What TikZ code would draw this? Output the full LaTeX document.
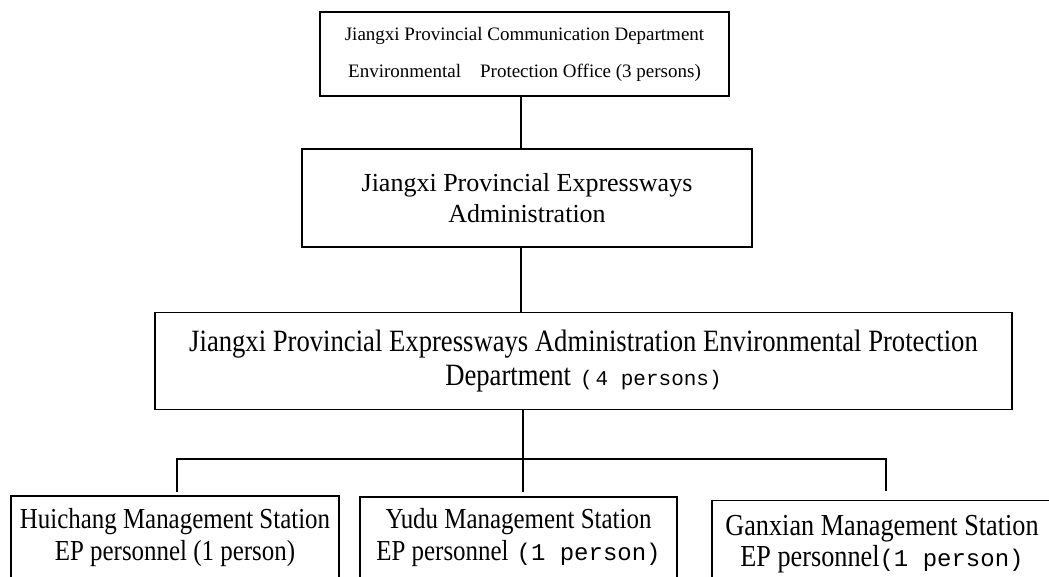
\documentclass[tikz,border=0pt]{standalone}
\usepackage{fontspec}
\setmainfont{Liberation Serif}
\newfontfamily\condserif[FakeStretch=0.86]{Liberation Serif}
\newfontfamily\monof{Liberation Mono}
\begin{document}
\begin{tikzpicture}[x=1pt,y=-1pt,
  box/.style={draw=black,line width=1.5pt,inner sep=0pt,align=center},
  conn/.style={draw=black,line width=1.4pt}]
\useasboundingbox (0,0) rectangle (1049,576);
\fill[white] (0,0) rectangle (1049,576);
\node[box,minimum width=409pt,minimum height=84pt,
  font=\fontsize{19}{37}\selectfont] (top) at (524.5,54)
  {Jiangxi Provincial Communication Department\\Environmental\quad Protection Office (3 persons)};
\node[box,minimum width=450pt,minimum height=98pt,
  font=\fontsize{26}{31}\selectfont] (admin) at (527,198)
  {Jiangxi Provincial Expressways\\Administration};
\node[box,minimum width=857pt,minimum height=97pt,
  font=\condserif\fontsize{31}{34}\selectfont] (dept) at (583.5,361)
  {Jiangxi Provincial Expressways Administration Environmental Protection\\Department\hspace{9pt}{\monof\fontsize{21}{34}\selectfont(\hspace{3pt}4 persons)}};
\node[box,minimum width=328pt,minimum height=83pt,
  font=\condserif\fontsize{29}{32}\selectfont] (hc) at (175,537.5)
  {Huichang Management Station\\EP personnel (1 person)};
\node[box,minimum width=317pt,minimum height=82pt,
  font=\condserif\fontsize{29}{32}\selectfont] (yd) at (518.5,538)
  {Yudu Management Station\\EP personnel\hspace{8pt}{\monof\fontsize{24}{32}\selectfont(1 person)}};
\node[box,minimum width=340pt,minimum height=88pt,
  font=\condserif\fontsize{30.5}{31}\selectfont] (gx) at (882,544.5)
  {Ganxian Management Station\\EP personnel{\monof\fontsize{24}{31}\selectfont(1 person)}};
\coordinate (t1) at (521,0);
\coordinate (bus) at (523,459);
\coordinate (d1) at (177,492);
\coordinate (d2) at (523,492);
\coordinate (d3) at (886,491);
\draw[conn] (top.south -| t1) -- (admin.north -| t1);
\draw[conn] (admin.south -| t1) -- (dept.north -| t1);
\draw[conn] (dept.south -| d2) -- (d2);
\draw[conn] (d1) |- (bus -| d3) -- (d3);
\end{tikzpicture}
\end{document}
